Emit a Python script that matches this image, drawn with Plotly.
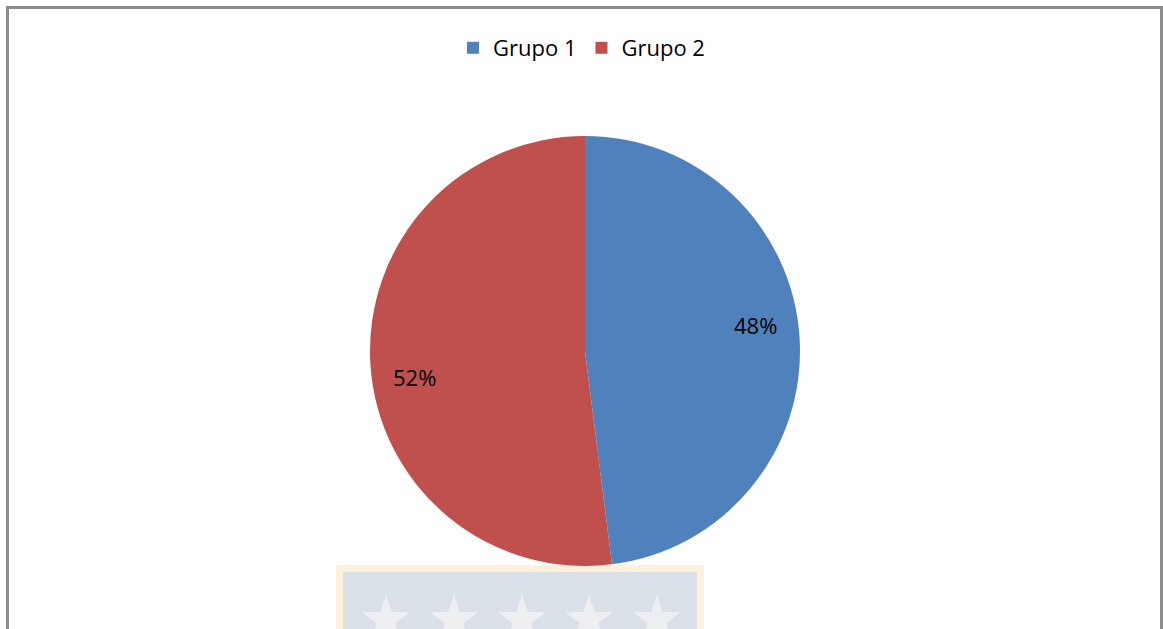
import plotly.graph_objects as go
import math

categories = ["Grupo 1", "Grupo 2"]
values = [48, 52]
colors = ["#4F81BD", "#C0504D"]

W, H = 1163, 629
FONT = "Open Sans"

# pie geometry (pixels)
PCX, PCY, PR = 585, 351, 215

fig = go.Figure(go.Pie(
    labels=categories,
    values=values,
    sort=False,
    direction="clockwise",
    rotation=0,
    marker=dict(colors=colors, line=dict(width=0)),
    textinfo="none",
    domain=dict(x=[(PCX - PR) / W, (PCX + PR) / W], y=[1 - (PCY + PR) / H, 1 - (PCY - PR) / H]),
    hoverinfo="label+percent",
))


def px(x):
    return x / W


def py(y):
    return 1 - y / H


# percentage labels placed along each slice's bisector
total = sum(values)
annotations = []
cum = 0
for v in values:
    mid = (cum + v / 2) / total * 360 - 5  # degrees clockwise from top
    cum += v
    rad = math.radians(mid)
    lx = PCX + 0.8 * PR * math.sin(rad)
    ly = PCY - 0.8 * PR * math.cos(rad)
    annotations.append(dict(x=px(lx), y=py(ly), xref="paper", yref="paper",
                            text=f"{round(100 * v / total)}%", showarrow=False,
                            xanchor="center", yanchor="middle",
                            font=dict(family=FONT, size=22, color="#000000")))

shapes = []
# watermark box
shapes.append(dict(type="rect", xref="paper", yref="paper", x0=px(336), x1=px(704), y0=py(640), y1=py(565),
                   fillcolor="#FDF0DC", line=dict(width=0), layer="below"))
shapes.append(dict(type="rect", xref="paper", yref="paper", x0=px(343), x1=px(697), y0=py(640), y1=py(572),
                   fillcolor="#DAE0E8", line=dict(width=0), layer="below"))


def star_path(cx, cy, R, r):
    pts = []
    for i in range(10):
        ang = -math.pi / 2 + i * math.pi / 5
        rr = R if i % 2 == 0 else r
        pts.append((cx + rr * math.cos(ang), cy + rr * math.sin(ang)))
    return "M " + " L ".join(f"{px(x):.5f},{py(y):.5f}" for x, y in pts) + " Z"


for cx in [386, 454, 522, 589, 657]:
    shapes.append(dict(type="path", xref="paper", yref="paper", path=star_path(cx, 620, 25, 10),
                       fillcolor="#EEEFF1", line=dict(width=0), layer="below"))

# border frame
shapes.append(dict(type="path", xref="paper", yref="paper",
                   path=f"M {px(7.5)},{py(640)} L {px(7.5)},{py(7.5)} L {px(1161.5)},{py(7.5)} L {px(1161.5)},{py(640)}",
                   line=dict(color="#8C8C8C", width=3)))

fig.update_layout(
    width=W, height=H, autosize=False,
    margin=dict(l=0, r=0, t=0, b=0),
    paper_bgcolor="white",
    plot_bgcolor="white",
    showlegend=True,
    legend=dict(orientation="h", x=0.5, xanchor="center", y=py(48), yanchor="middle",
                font=dict(family=FONT, size=22, color="#000000"), itemwidth=30),
    shapes=shapes,
    annotations=annotations,
)

fig.write_html("out.html", config={"displayModeBar": False},
               post_script="document.body.style.margin='0';")
